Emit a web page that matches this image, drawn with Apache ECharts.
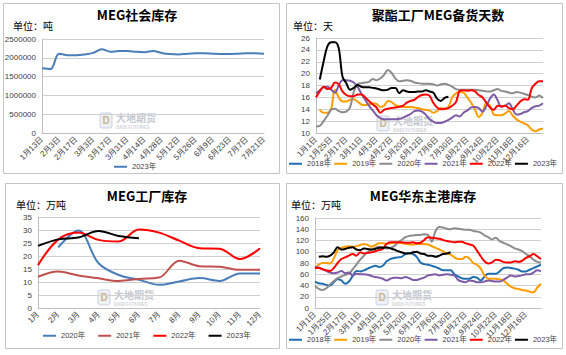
<!DOCTYPE html>
<html><head><meta charset="utf-8">
<script src="https://cdn.jsdelivr.net/npm/echarts@6/dist/echarts.min.js"></script>
<style>html,body{margin:0;padding:0;background:#fff}#c{width:566px;height:355px}</style>
</head><body><div id="c"></div>
<script>
// ---------- Panel 1: MEG社会库存 (吨) ----------
const p1Dates = ['1月13日','1月20日','2月3日','2月10日','2月17日','2月24日','3月3日','3月10日','3月17日','3月24日','3月31日','4月7日','4月14日','4月21日','4月28日','5月5日','5月12日','5月19日','5月26日','6月2日','6月9日','6月16日','6月23日','6月30日','7月7日','7月14日','7月21日'];
const p1Stock2023 = [1720000,1700000,2110000,2070000,2070000,2090000,2130000,2230000,2160000,2180000,2180000,2160000,2150000,2180000,2130000,2100000,2090000,2110000,2120000,2120000,2110000,2100000,2100000,2110000,2120000,2120000,2110000];

// ---------- Panel 2: 聚酯工厂MEG备货天数 (天) ----------
const p2Ticks = ['1月1日','1月25日','2月17日','3月11日','4月3日','4月27日','5月20日','6月12日','7月6日','7月30日','8月27日','9月24日','10月22日','11月18日','12月16日'];
const p2Days2018 = [];
const p2Days2019 = [null,13.9,13.4,13.4,14.1,17.3,16.0,15.3,15.3,15.6,15.7,15.3,14.8,14.7,14.8,15.0,14.9,14.4,14.6,15.4,15.2,14.7,14.5,14.4,14.4,14.4,14.3,14.2,14.0,13.9,13.8,13.4,13.7,14.2,14.0,14.4,16.0,16.7,16.9,16.8,16.0,15.1,14.0,12.7,13.4,15.1,14.6,13.1,13.0,13.0,13.3,13.7,12.9,12.3,11.9,11.6,11.3,10.6,10.3,10.6,10.7];
const p2Days2020 = [11.1,11.2,12.0,12.9,13.9,14.1,13.7,13.5,13.6,14.3,17.0,18.2,18.4,18.5,18.6,19.1,18.9,19.2,19.8,20.6,20.1,19.2,18.7,18.8,18.9,18.8,18.5,18.4,18.3,18.3,18.3,18.2,18.0,18.2,18.3,18.1,17.8,17.4,17.3,17.3,17.3,17.3,17.3,17.2,17.1,17.0,17.0,17.2,17.4,17.1,17.0,16.8,16.7,16.9,16.8,16.6,16.4,16.1,16.0,16.3,15.9];
const p2Days2021 = [16.7,17.2,17.7,17.8,17.3,16.8,18.0,18.9,18.9,18.8,18.5,17.8,16.6,15.6,14.6,13.8,13.0,12.5,12.3,12.3,12.3,12.3,12.4,12.6,12.9,13.2,13.7,13.8,13.6,13.1,12.3,11.9,11.7,11.7,11.9,12.2,12.6,13.0,12.8,13.4,13.8,14.3,14.4,14.2,13.6,14.5,15.8,16.5,15.5,14.4,14.6,15.0,14.0,13.1,13.2,13.5,13.7,14.2,14.5,14.6,15.0];
const p2Days2022 = [16.0,17.0,17.8,17.4,17.6,18.5,18.2,17.0,16.4,16.2,16.2,16.5,16.5,16.0,15.4,14.8,14.3,13.4,13.9,14.1,14.2,14.3,14.4,14.6,15.1,15.4,15.6,16.1,16.4,16.5,16.3,15.1,14.3,14.0,14.1,14.2,14.6,15.2,17.1,17.2,17.1,17.2,17.0,16.4,16.0,15.1,14.3,13.9,14.6,14.5,14.6,14.2,14.0,14.6,15.3,15.7,15.6,17.5,18.3,18.7,18.7];
const p2Days2023 = [null,19.0,22.0,24.6,25.3,25.3,24.3,19.5,18.4,17.3,17.6,18.1,17.8,17.7,17.7,17.6,17.5,17.3,17.2,17.3,17.6,17.6,16.7,17.2,17.0,16.9,16.9,17.0,17.0,17.2,17.0,16.8,15.8,15.4,15.9,16.1];

// ---------- Panel 3: MEG工厂库存 (万吨) ----------
const p3Months = ['1月','2月','3月','4月','5月','6月','7月','8月','9月','10月','11月','12月'];
const p3Stock2020 = [null,23.3,29.8,17.2,12.7,10.9,8.9,10.2,11.5,10.4,13.3,13.3];
const p3Stock2021 = [12.0,14.0,12.5,11.4,10.4,11.2,11.7,18.2,16.1,15.9,14.7,14.7];
const p3Stock2022 = [16.5,26.3,29.0,26.2,25.6,30.2,29.0,25.9,23.0,22.8,18.8,23.0];
const p3Stock2023 = [23.9,26.4,27.1,29.6,27.7,26.8];

// ---------- Panel 4: MEG华东主港库存 (万吨) ----------
const p4Ticks = ['1月1日','1月25日','2月17日','3月11日','4月3日','4月27日','5月20日','6月12日','7月6日','7月30日','8月27日','9月24日','10月22日','11月18日','12月16日'];
const p4Port2018 = [47,44,43,41,40,46,51,49,43,47,57,66,65,67,70,73,75,73,75,83,87,89,90,91,96,98,96,91,81,78,77,75,73,70,67,67,67,60,56,53,52,52,55,54,49,56,61,61,61,65,71,72,71,70,68,65,65,68,71,74,77];
const p4Port2019 = [71,77,80,80,79,88,103,107,109,110,109,110,112,114,112,109,112,115,115,114,115,116,116,115,114,113,113,114,114,114,113,110,107,104,101,97,95,90,87,87,91,88,80,77,70,58,52,52,52,51,49,43,38,35,34,32,31,29,28,36,43];
const p4Port2020 = [39,34,32,35,42,48,53,56,59,61,69,77,86,93,100,104,107,109,108,106,107,110,116,121,126,128,129,130,130,131,130,118,137,144,143,141,140,142,141,140,139,139,137,136,134,129,126,122,125,119,116,113,110,106,104,101,96,92,86,82,81];
const p4Port2021 = [73,72,69,66,63,62,63,66,62,63,58,61,60,60,59,57,55,54,52,49,52,54,54,53,55,53,50,50,52,54,58,59,60,58,59,60,59,58,50,47,46,49,48,46,46,47,49,48,47,47,50,54,58,56,57,58,60,60,63,67,65];
const p4Port2022 = [71,71,69,67,66,71,80,87,90,93,96,93,99,97,98,99,101,103,105,114,117,117,117,117,116,116,117,115,116,121,126,125,124,123,121,119,118,117,118,118,115,113,111,102,92,83,79,81,86,85,82,81,81,83,82,84,89,92,96,92,87];
const p4Port2023 = [null,91,92,91,93,99,108,104,105,107,108,104,103,106,105,104,105,107,107,108,106,104,101,99,97,97,99,100,97,96,93,93,91,93,96,97,99];

// ---------- build ----------
const FONT = '"Liberation Sans", Arial, "Noto Sans CJK SC", sans-serif';
const CJK = '"Noto Sans CJK SC", sans-serif';
const yearColors = {'2018年':'#1f6fb0','2019年':'#ff9c00','2020年':'#8c8c8c','2021年':'#7d5ba6','2022年':'#ff0000','2023年':'#000000'};
const p3Colors = {'2020年':'#4a7ebb','2021年':'#c0504d','2022年':'#ff0000','2023年':'#000000'};

function expandTicks(ticks) {
  const out = [];
  ticks.forEach(t => { out.push(t, '', '', ''); });
  out.push('');
  return out;
}
const p2Cats = expandTicks(p2Ticks);
const p4Cats = expandTicks(p4Ticks);

const axisLabel = {fontSize: 8, color: '#404040', fontFamily: FONT};
const gridLine = {show: true, lineStyle: {color: '#d0d0d0', width: 1}};
const axisLineStyle = {show: true, lineStyle: {color: '#bfbfbf', width: 1}};

function xAx(gi, data, interval) {
  return {type: 'category', gridIndex: gi, data: data, boundaryGap: false,
    axisTick: {show: false}, axisLine: axisLineStyle,
    axisLabel: Object.assign({rotate: 45, interval: interval, margin: 5}, axisLabel)};
}
function yAx(gi, min, max, interval) {
  return {type: 'value', gridIndex: gi, min: min, max: max, interval: interval,
    axisLine: axisLineStyle, axisTick: {show: false}, splitLine: gridLine,
    axisLabel: Object.assign({margin: 6, formatter: v => String(v)}, axisLabel)};
}
function line(name, data, color, idx) {
  return {type: 'line', name: name, data: data, xAxisIndex: idx, yAxisIndex: idx,
    smooth: 0.35, symbol: 'none', connectNulls: false,
    lineStyle: {color: color, width: 2}, itemStyle: {color: color}, z: 3};
}
const strip = n => n.split('|')[1];

const series = [];
series.push(line('p1|2023年', p1Stock2023, '#4a7ebb', 0));
const p2Data = {'2018年':p2Days2018,'2019年':p2Days2019,'2020年':p2Days2020,'2021年':p2Days2021,'2022年':p2Days2022,'2023年':p2Days2023};
Object.keys(p2Data).forEach(k => series.push(line('p2|' + k, p2Data[k], yearColors[k], 1)));
const p3Data = {'2020年':p3Stock2020,'2021年':p3Stock2021,'2022年':p3Stock2022,'2023年':p3Stock2023};
Object.keys(p3Data).forEach(k => series.push(line('p3|' + k, p3Data[k], p3Colors[k], 2)));
const p4Data = {'2018年':p4Port2018,'2019年':p4Port2019,'2020年':p4Port2020,'2021年':p4Port2021,'2022年':p4Port2022,'2023年':p4Port2023};
Object.keys(p4Data).forEach(k => series.push(line('p4|' + k, p4Data[k], yearColors[k], 3)));

function legend(prefix, names, left, top, gap) {
  return {data: names.map(n => prefix + '|' + n), left: left, top: top, itemWidth: 13, itemHeight: 2,
    icon: 'rect', itemGap: gap, formatter: strip, selectedMode: false, padding: 0,
    textStyle: {fontSize: 7.5, color: '#404040', fontFamily: FONT}};
}

function titleText(x, y, text) {
  return {type: 'text', x: x, y: y, z: 5, style: {text: text, fill: '#000', font: 'bold 13px ' + CJK, textAlign: 'center', textVerticalAlign: 'middle'}};
}
function unitText(x, y, text) {
  return {type: 'text', x: x, y: y, z: 5, style: {text: text, fill: '#000', font: '10px ' + CJK, textAlign: 'left', textVerticalAlign: 'middle'}};
}
function border(x, y, w, h) {
  return {type: 'rect', shape: {x: x, y: y, width: w, height: h}, z: 0, style: {fill: 'none', stroke: '#c4c4c4', lineWidth: 1}};
}
function watermark(x, y) {
  return {type: 'group', x: x, y: y, z: 1, children: [
    {type: 'rect', shape: {x: 0, y: 0, width: 12, height: 15, r: 2}, style: {fill: '#eef1f6', stroke: '#c9d2e0', lineWidth: 1}},
    {type: 'text', x: 6, y: 7.5, style: {text: 'D', fill: '#c8b58a', font: 'bold 10px ' + FONT, textAlign: 'center', textVerticalAlign: 'middle'}},
    {type: 'text', x: 16, y: -1, style: {text: '大地期货', fill: '#c4c8d0', font: 'bold 10px ' + CJK, textAlign: 'left', textVerticalAlign: 'top'}},
    {type: 'text', x: 16, y: 12, style: {text: 'DADI FUTURES', fill: '#cfd3da', font: 'bold 4.5px ' + FONT, textAlign: 'left', textVerticalAlign: 'top'}}
  ]};
}

const option = {
  backgroundColor: '#ffffff',
  animation: false,
  textStyle: {fontFamily: FONT},
  grid: [
    {left: 42, top: 39, width: 222, height: 94},
    {left: 316, top: 38, width: 227, height: 95},
    {left: 38, top: 217, width: 222, height: 91},
    {left: 315, top: 218, width: 226, height: 90}
  ],
  xAxis: [xAx(0, p1Dates, 1), xAx(1, p2Cats, 0), xAx(2, p3Months, 0), xAx(3, p4Cats, 0)],
  yAxis: [yAx(0, 0, 2500000, 500000), yAx(1, 10, 26, 2), yAx(2, 0, 35, 5), yAx(3, 0, 160, 20)],
  legend: [
    legend('p1', ['2023年'], 114, 163, 8),
    legend('p2', ['2018年','2019年','2020年','2021年','2022年','2023年'], 289, 160, 3),
    legend('p3', ['2020年','2021年','2022年','2023年'], 43, 332, 13),
    legend('p4', ['2018年','2019年','2020年','2021年','2022年','2023年'], 289, 336, 3)
  ],
  graphic: [
    border(3.5, 3.5, 276, 170), border(286.5, 3.5, 276, 170),
    border(5.5, 183.5, 274, 165), border(286.5, 183.5, 276, 165),
    titleText(137, 14, 'MEG社会库存'),
    titleText(438, 14, '聚酯工厂MEG备货天数'),
    titleText(147, 195, 'MEG工厂库存'),
    titleText(423, 195, 'MEG华东主港库存'),
    unitText(13, 25, '单位：吨'),
    unitText(293, 25, '单位：天'),
    unitText(16, 204, '单位：万吨'),
    unitText(291, 204, '单位：万吨'),
    watermark(100, 113), watermark(377, 116), watermark(98, 290), watermark(376, 290)
  ],
  series: series
};
const chart = echarts.init(document.getElementById('c'), null, {renderer: 'svg'});
chart.setOption(option);
</script></body></html>
